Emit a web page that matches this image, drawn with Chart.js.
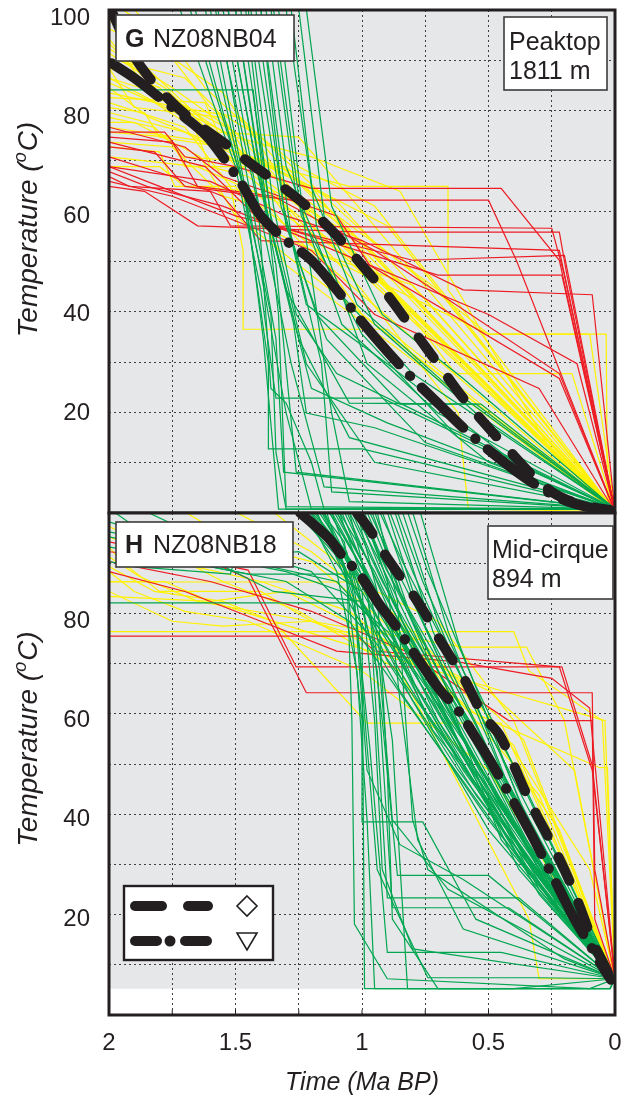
<!DOCTYPE html>
<html>
<head>
<meta charset="utf-8">
<script src="https://cdn.jsdelivr.net/npm/chart.js@4.4.1/dist/chart.umd.min.js"></script>
<style>
  html, body { margin: 0; padding: 0; background: #fff; }
  body { width: 626px; height: 1108px; position: relative; overflow: hidden; }
  canvas { position: absolute; left: 0; }
  #topPanel { top: 0; }
  #bottomPanel { top: 500px; }
</style>
</head>
<body>
<canvas id="topPanel" width="626" height="520"></canvas>
<canvas id="bottomPanel" width="626" height="608"></canvas>
<script>
// ---- axes ----
const TIME_TICKS = [0, 0.25, 0.5, 0.75, 1, 1.25, 1.5, 1.75, 2];      // Ma BP
const TIME_LABELS = [0, 0.5, 1, 1.5, 2];
const TEMP_TICKS_TOP = [20, 40, 60, 80, 100];                       // deg C
const TEMP_TICKS_BOTTOM = [20, 40, 60, 80];
const TEMP_RANGE_TOP = [-0.3, 101.8];
const TEMP_RANGE_BOTTOM = [0.7, 101.8];
const ENVELOPE_FLOOR_TOP = -0.3;      // lower limit of the explored path field
const ENVELOPE_FLOOR_BOTTOM = 6;

// ---- NZ08NB04 (Peaktop, 1811 m): time-temperature paths as [Ma, degC] ----
const TOP_MEAN_DIAMOND = [[1.985,101],[1.92,94],[1.84,88],[1.75,83],[1.66,79],[1.55,75],[1.45,71],[1.33,66.5],[1.22,62],[1.10,56],[1.00,50],[0.90,44],[0.80,37],[0.70,30],[0.60,23],[0.50,17],[0.42,12.5],[0.33,7.5],[0.25,4],[0.17,2],[0.08,0.8],[0.02,0.3]];
const TOP_MEAN_TRIANGLE = [[1.99,91],[1.90,88],[1.80,84],[1.70,80],[1.62,76.5],[1.55,72],[1.47,66],[1.40,60],[1.30,55],[1.20,51],[1.10,45],[1.00,38.5],[0.90,32.5],[0.80,27],[0.70,22],[0.60,17],[0.50,12.5],[0.40,8.5],[0.30,5],[0.20,2.3],[0.10,0.8],[0.04,0.3]];

const TOP_GREEN = [
  [[2.0,85.6],[1.43,85.6],[1.33,40],[1.30,1],[0,0.5]],
  [[1.72,102],[1.50,70],[1.40,45],[1.34,23],[0.92,23],[0,0.5]],
  [[1.66,102],[1.47,66],[1.37,30],[1.37,12.7],[1.0,12.7],[0,0.5]],
  [[1.62,102],[1.46,64],[1.39,35],[1.33,0.5],[0,0.5]],
  [[1.60,102],[1.44,60],[1.30,20],[1.20,0.5],[0,0.5]],
  [[1.57,102],[1.42,58],[1.34,35],[1.31,8],[0,0.5]],
  [[1.55,102],[1.40,60],[1.28,30],[1.15,5],[0,0.5]],
  [[1.53,102],[1.41,68],[1.30,45],[1.05,22],[0.55,21.8],[0,0.5]],
  [[1.50,102],[1.38,62],[1.25,35],[1.05,15],[0,0.5]],
  [[1.48,102],[1.36,60],[1.22,30],[0.95,10],[0,0.5]],
  [[1.46,102],[1.35,55],[1.20,25],[0.90,18],[0,0.5]],
  [[1.44,102],[1.32,62],[1.18,40],[0.85,22],[0,0.5]],
  [[1.42,102],[1.30,58],[1.14,35],[0.75,14],[0,0.5]],
  [[1.40,102],[1.28,56],[1.16,30],[1.12,4],[0,0.5]],
  [[1.38,102],[1.30,70],[1.10,45],[0.80,28],[0,0.5]],
  [[1.36,102],[1.26,64],[1.08,38],[0.70,20],[0,0.5]],
  [[1.35,102],[1.24,60],[1.00,36],[0.62,15],[0,0.5]],
  [[1.33,102],[1.22,55],[1.12,20],[1.05,2],[0,0.5]],
  [[1.30,102],[1.20,66],[1.02,42],[0.65,25],[0,0.5]],
  [[1.28,102],[1.18,58],[0.98,30],[0.50,10],[0,0.5]],
  [[1.25,102],[1.15,60],[0.95,38],[0.55,20],[0,0.5]],
  [[1.22,102],[1.12,62],[0.92,40],[0.60,27],[0,0.5]],
  [[1.58,102],[1.41,62],[1.36,25],[1.30,22],[1.20,10],[1.15,0.5],[0,0.5]],
  [[1.68,102],[1.48,68],[1.36,40],[1.34,12],[1.30,0.5],[0,0.5]],
  [[1.45,102],[1.35,62],[1.26,40],[1.10,28],[0.85,21.8],[0.53,21.8],[0,0.5]],
  [[1.50,102],[1.39,64],[1.27,38],[1.22,20],[0.95,17],[0,0.5]],
  [[1.40,102],[1.31,62],[1.22,42],[0.90,30],[0.40,10],[0,0.5]],
  [[1.53,102],[1.43,74],[1.34,50],[1.26,8],[0,0.5]]
];

const TOP_YELLOW = [
  [[2,100],[1.85,90],[1.60,78],[1.30,66],[0,0]],
  [[2,95],[1.80,85],[1.50,77],[1.20,60],[0,0]],
  [[2,90],[1.90,82],[1.55,80],[1.45,72],[1.10,63],[0,0]],
  [[2,88],[1.75,84],[1.52,76],[1.38,66],[1.0,55],[0,0]],
  [[2,84],[1.62,83],[1.57,77],[1.25,76],[1.05,64],[0,0]],
  [[2,80],[1.82,78],[1.70,72],[1.45,71],[1.30,60],[0.95,48],[0,0]],
  [[2,77],[1.76,76],[1.70,70],[1.30,70],[1.15,62],[0.70,45],[0,0]],
  [[2,74],[1.80,73],[1.74,66],[1.50,66],[1.40,58],[0.50,36],[0.035,36],[0.03,3],[0,0]],
  [[2,92],[1.70,88],[1.58,82],[1.48,73],[1.20,66],[0.63,28],[0.17,28],[0,0]],
  [[2,86],[1.84,80],[1.60,75],[1.28,68],[0.90,58],[0,0]],
  [[2,98],[1.75,92],[1.55,85],[1.40,74],[1.20,58],[0,0]],
  [[1.95,102],[1.75,95],[1.62,86],[1.45,78],[1.35,72],[0,0]],
  [[2,82],[1.86,81],[1.80,76],[1.55,74],[1.35,70],[1.05,66],[0.66,66],[0.66,45],[0,0]],
  [[2,70],[1.80,70],[1.70,66],[1.42,65],[1.25,55],[0,0]],
  [[2,93],[1.78,86],[1.62,78],[1.50,70],[1.30,50],[0,0]],
  [[2,88],[1.70,80],[1.55,73],[1.35,65],[1.00,40],[0,0]],
  [[2,96],[1.88,88],[1.66,80],[1.50,76],[1.20,72],[0.85,65],[0.25,12],[0,0]],
  [[2,79],[1.90,79],[1.64,72],[1.50,60],[1.30,52],[0,0]],
  [[2,85],[1.72,82],[1.48,80],[1.36,74],[0.98,56],[0.50,36],[0.10,36],[0,0]],
  [[1.90,102],[1.72,90],[1.60,82],[1.40,76],[1.25,70],[0.95,62],[0,0]],
  [[2,75],[1.75,74],[1.55,64],[1.40,62],[1.15,52],[0.80,46],[0,0]],
  [[2,90],[1.80,86],[1.68,80],[1.60,70],[1.45,68],[1.10,54],[0,0]],
  [[2,83],[1.70,78],[1.52,66],[1.47,53],[1.47,37],[0.90,37],[0,0]],
  [[2,72],[1.65,70],[1.30,62],[1.00,45],[0.62,20],[0.58,0.5],[0,0]],
  [[2,94],[1.75,86],[1.45,75],[1.25,64],[0,0]],
  [[2,81],[1.70,77],[1.45,70],[1.15,58],[0,0]],
  [[2,87],[1.82,83],[1.55,74],[1.32,70],[1.10,60],[0,0]],
  [[2,78],[1.60,75],[1.35,68],[1.05,57],[0,0]]
];

const TOP_RED = [
  [[2,77],[1.78,77],[1.70,72],[1.50,70],[1.20,65.6],[0.45,65.6],[0.22,51],[0,0]],
  [[2,74],[1.82,73],[1.70,66],[1.28,63.2],[0.50,63.2],[0.39,51],[0,0]],
  [[2,68],[1.92,66],[1.60,65],[1.52,58],[0.25,57.5],[0.20,48],[0,0]],
  [[2,66],[1.86,65],[1.65,58],[1.00,56.7],[0.22,56.7],[0.19,48],[0,0]],
  [[2,72],[1.75,68],[1.55,64],[1.40,55],[0.22,53],[0,0]],
  [[2,70],[1.80,66],[1.50,60],[0.80,51],[0.20,52],[0,0]],
  [[2,78],[1.70,74],[1.55,68],[1.10,60],[0.97,50],[0.22,27],[0,0]],
  [[2,75],[1.62,70],[1.40,59],[0.70,48],[0.21,48],[0,0]],
  [[2,70],[1.60,67],[1.30,60],[1.00,55],[0.60,45],[0.09,44],[0,0]],
  [[2,67],[1.75,64],[1.40,57],[1.20,53],[0.95,40],[0.30,25],[0,0]],
  [[2,76],[1.75,75],[1.65,66],[1.35,64],[0.95,53],[0.22,28],[0,0]],
  [[2,69],[1.85,66],[1.55,62],[1.25,56],[0.50,40],[0.15,30],[0,0]]
];

// ---- NZ08NB18 (Mid-cirque, 894 m) ----
const BOTTOM_MEAN_DIAMOND = [[1.02,101.8],[0.97,98.5],[0.929,95],[0.87,90.5],[0.811,86.3],[0.75,81.5],[0.693,76.3],[0.64,72],[0.594,68.2],[0.52,61],[0.457,57.1],[0.40,51],[0.358,46.1],[0.31,41],[0.268,37],[0.20,30],[0.142,22.9],[0.083,14.9],[0.04,10.5],[0.016,7.8]];
const BOTTOM_MEAN_TRIANGLE = [[1.244,101.8],[1.18,99],[1.126,96.4],[1.075,93],[1.008,89.3],[0.93,83.3],[0.87,79.3],[0.78,72.5],[0.693,66.2],[0.622,62.2],[0.55,56.5],[0.496,52.1],[0.417,45.1],[0.33,37],[0.26,30],[0.22,26],[0.16,20],[0.10,14.9],[0.05,10.5],[0.016,7.8]];

const BOTTOM_GREEN = [
  [[1.24,102],[1.05,88],[0.85,70],[0.55,45],[0,8]],
  [[1.20,102],[1.02,86],[0.80,64],[0.50,38],[0,8]],
  [[1.18,102],[1.00,84],[0.90,72],[0.62,50],[0,8]],
  [[1.15,102],[0.98,85],[0.75,62],[0.45,40],[0,8]],
  [[1.12,102],[0.95,86],[0.78,66],[0.40,34],[0,8]],
  [[1.10,102],[0.96,88],[0.70,60],[0.35,30],[0,8]],
  [[1.08,102],[0.94,84],[0.72,58],[0.50,44],[0,8]],
  [[1.06,102],[0.90,83],[0.68,60],[0.30,25],[0,8]],
  [[1.04,102],[0.88,84],[0.66,62],[0.42,40],[0,8]],
  [[1.02,102],[0.86,82],[0.62,56],[0.32,30],[0,8]],
  [[1.00,102],[0.84,80],[0.60,58],[0.28,28],[0,8]],
  [[0.98,102],[0.82,82],[0.58,54],[0.36,36],[0,8]],
  [[0.95,102],[0.80,80],[0.62,62],[0.40,42],[0,8]],
  [[0.92,102],[0.78,82],[0.55,56],[0.25,26],[0,8]],
  [[0.90,102],[0.76,80],[0.52,52],[0.30,34],[0,8]],
  [[0.87,102],[0.72,78],[0.50,54],[0,8]],
  [[0.84,102],[0.70,80],[0.45,50],[0,8]],
  [[0.80,102],[0.66,78],[0.40,44],[0,8]],
  [[0.77,102],[0.62,76],[0.38,44],[0,8]],
  [[1.22,102],[1.10,90],[1.02,70],[0.98,40],[0.95,6],[0.02,6],[0,8]],
  [[1.18,102],[1.06,88],[1.00,60],[1.00,39.6],[0.76,39.6],[0.55,20],[0,8]],
  [[1.14,102],[1.03,84],[0.97,55],[0.90,13.3],[0.45,13.3],[0,8]],
  [[1.26,102],[1.08,92],[1.02,80],[0.94,30],[0.74,8.2],[0.30,8.2],[0,8]],
  [[1.09,102],[0.98,86],[0.92,60],[0.86,28.8],[0.50,28.8],[0,8]],
  [[1.16,102],[1.04,90],[0.96,75],[0.90,24.3],[0.38,24.3],[0,8]],
  [[1.12,102],[1.02,88],[0.94,70],[0.88,22.3],[0.42,22.3],[0,8]],
  [[1.05,102],[0.96,84],[0.88,56],[0.82,6],[0.02,6],[0,8]],
  [[1.20,102],[1.06,94],[1.00,78],[0.99,6],[0.40,6],[0,8]],
  [[2,83.7],[1.05,83.7],[0.85,66],[0.50,40],[0,8]],
  [[2,95],[1.80,93],[1.45,89.5],[1.02,89.5],[0.80,70],[0.40,36],[0,8]],
  [[2,98],[1.70,95],[1.35,86],[1.00,84],[0.70,60],[0,8]],
  [[2,92],[1.90,91],[1.52,89.5],[1.50,93],[1.25,94],[1.00,86],[0.60,50],[0,8]],
  [[1.98,102],[1.70,92],[1.30,88],[1.05,80],[0.80,62],[0.35,30],[0,8]],
  [[1.85,102],[1.60,96],[1.20,90],[0.95,76],[0.70,58],[0,8]],
  [[1.00,102],[0.88,88],[0.70,70],[0.45,50],[0.20,25],[0,8]],
  [[0.96,102],[0.85,86],[0.66,66],[0.40,44],[0,8]],
  [[1.07,102],[0.92,86],[0.74,70],[0.55,52],[0.30,30],[0,8]],
  [[1.13,102],[0.99,90],[0.82,74],[0.60,54],[0,8]],
  [[0.86,102],[0.76,88],[0.60,70],[0.35,46],[0,8]],
  [[0.82,102],[0.74,90],[0.56,68],[0.30,40],[0,8]],
  [[1.03,102],[0.93,92],[0.78,76],[0.64,62],[0.45,36],[0,8]],
  [[1.11,102],[1.00,92],[0.90,80],[0.70,64],[0.38,30],[0,8]],
  [[1.15,102],[1.06,90],[1.04,60],[1.03,19],[0.90,8],[0.10,6],[0,8]],
  [[1.02,102],[0.94,86],[0.90,50],[0.88,20],[0.70,6],[0.02,6],[0,8]],
  [[0.94,102],[0.86,84],[0.80,40],[0.74,30],[0.20,12],[0,8]],
  [[1.17,102],[1.02,90],[0.84,76],[0.62,58],[0.35,32],[0,8]],
  [[1.13,102],[0.97,88],[0.80,72],[0.58,52],[0.30,26],[0,8]],
  [[1.09,102],[0.95,90],[0.76,70],[0.56,50],[0.26,24],[0,8]],
  [[1.05,102],[0.92,88],[0.74,72],[0.52,52],[0.22,22],[0,8]],
  [[1.01,102],[0.90,90],[0.72,74],[0.48,50],[0,8]],
  [[0.97,102],[0.88,92],[0.68,72],[0.44,48],[0,8]],
  [[0.93,102],[0.84,92],[0.66,74],[0.46,54],[0.18,20],[0,8]],
  [[0.89,102],[0.80,90],[0.64,72],[0.42,50],[0,8]],
  [[1.23,102],[1.08,94],[0.92,82],[0.70,66],[0.48,46],[0,8]],
  [[1.19,102],[1.04,92],[0.86,80],[0.66,62],[0.44,42],[0,8]],
  [[1.21,102],[1.10,96],[1.00,86],[0.95,60],[0.92,30],[0.80,14],[0,8]],
  [[1.10,102],[1.00,92],[0.93,70],[0.88,40],[0.66,26],[0,8]],
  [[0.99,102],[0.90,88],[0.85,64],[0.78,36],[0.60,18],[0,8]],
  [[1.16,102],[1.07,96],[1.03,84],[0.98,50],[0.85,35],[0.60,28],[0,8]],
  [[2,100],[1.75,96],[1.45,92],[1.10,88],[0.85,74],[0.55,50],[0,8]],
  [[2,97],[1.60,93],[1.30,90],[1.08,86],[0.90,78],[0.60,56],[0,8]]
];

const BOTTOM_YELLOW = [
  [[2,87.9],[1.02,87.9],[0.70,80],[0.40,60],[0,8]],
  [[2,77.9],[0.40,77.9],[0.34,70],[0.05,60],[0,8]],
  [[2,95],[1.95,92],[1.80,86],[1.40,86],[1.20,80],[0.60,74.8],[0.35,74.8],[0.20,60],[0,8]],
  [[2,93],[1.88,89],[1.65,84],[1.20,80],[0.80,72],[0.40,55],[0,8]],
  [[2,90],[1.90,86],[1.70,82],[1.45,80],[1.00,70],[0.50,50],[0,8]],
  [[2,91],[1.82,86],[1.55,84],[1.35,80],[0.98,59.5],[0.45,59.5],[0,8]],
  [[1.70,102],[1.50,96],[1.20,92],[0.80,75],[0.30,45],[0,8]],
  [[2,97],[1.75,92],[1.40,88],[1.05,82],[0.62,64],[0.58,62],[0.06,50.5],[0.03,50.5],[0,8]],
  [[2,85],[1.60,84],[1.30,86],[0.90,76],[0.50,66],[0.16,50],[0,8]],
  [[1.50,102],[1.20,94],[0.90,82],[0.60,66],[0.22,38],[0,8]],
  [[2,99],[1.85,96],[1.55,88],[1.25,82],[0.85,70],[0.34,20],[0.30,8],[0,8]],
  [[2,88],[1.78,88],[1.60,84],[1.10,76],[0.45,66],[0.04,60],[0,8]],
  [[1.35,102],[1.10,92],[0.80,78],[0.45,58],[0.10,30],[0,8]],
  [[2,86],[1.75,80],[1.55,79],[1.20,80],[0.70,72],[0.36,56],[0,8]]
];

const BOTTOM_RED = [
  [[2,77],[1.02,77],[0.95,74],[0.22,70.8],[0.09,50],[0,8]],
  [[2,96],[1.45,90.3],[1.26,70.8],[0.21,70.8],[0.09,51],[0,8]],
  [[2,94],[1.60,92],[1.45,88.6],[1.22,65.6],[0.09,65.6],[0.08,30],[0,8]],
  [[2,90],[1.70,86],[1.40,80],[1.10,74],[0.62,71.8],[0.25,68.5],[0.10,62.5],[0.04,30],[0,8]],
  [[2,92],[1.60,88],[1.20,82],[0.83,74],[0.42,60],[0.09,60],[0.08,20],[0,8]]
];

// ---- styling ----
const INK = '#231f20';
const GREEN = '#00a650', YELLOW = '#fff200', RED = '#ed1c24', FIELD = '#e6e7e8';
const FONT = "'Liberation Sans', Arial, Helvetica, sans-serif";
const DASHED = [26, 24];
const DASH_DOT = [58, 16, 0.5, 16];

function pathDatasets(paths, color, order) {
  return paths.map(p => ({
    data: p.map(([t, T]) => ({ x: t, y: T })),
    borderColor: color, borderWidth: 1.2, pointRadius: 0, tension: 0,
    fill: false, order
  }));
}
function meanDataset(path, dash) {
  return {
    data: path.map(([t, T]) => ({ x: t, y: T })),
    borderColor: INK, borderWidth: 10, borderDash: dash,
    borderCapStyle: 'round', borderJoinStyle: 'round',
    pointRadius: 0, tension: 0.35, fill: false, order: 0
  };
}

// light field of explored paths, drawn underneath the grid
const fieldPlugin = {
  id: 'field',
  beforeDraw(chart, args, opts) {
    const { ctx, chartArea: a, scales: { y } } = chart;
    const yf = Math.min(a.bottom, y.getPixelForValue(opts.floor));
    ctx.save();
    ctx.fillStyle = FIELD;
    ctx.fillRect(a.left, a.top, a.right - a.left, yf - a.top);
    ctx.restore();
  }
};

function labelBox(ctx, x, y, w, h) {
  ctx.fillStyle = '#fff';
  ctx.fillRect(x, y, w, h);
  ctx.lineWidth = 1.6;
  ctx.strokeStyle = '#3b3b3b';
  ctx.strokeRect(x, y, w, h);
}

const decorPlugin = {
  id: 'decor',
  afterDraw(chart, args, opts) {
    const { ctx, chartArea: a, scales: { x } } = chart;
    ctx.save();
    // panel frame
    ctx.lineWidth = 3;
    ctx.strokeStyle = INK;
    ctx.strokeRect(a.left, a.top, a.right - a.left, a.bottom - a.top);
    // inward time ticks on the lower edge
    if (opts.innerTicks) {
      ctx.lineWidth = 1;
      TIME_TICKS.forEach(v => {
        const px = x.getPixelForValue(v);
        ctx.beginPath(); ctx.moveTo(px, a.bottom); ctx.lineTo(px, a.bottom - 5); ctx.stroke();
      });
    }
    // sample name box
    const s = opts.sample;
    labelBox(ctx, s.box[0], s.box[1], s.box[2], s.box[3]);
    ctx.fillStyle = INK;
    ctx.textBaseline = 'alphabetic';
    ctx.font = `bold 25px ${FONT}`;
    ctx.fillText(s.letter, s.tx, s.ty);
    ctx.font = `25px ${FONT}`;
    ctx.fillText(s.name, s.tx + 28, s.ty);
    // site box
    const e = opts.site;
    labelBox(ctx, e.box[0], e.box[1], e.box[2], e.box[3]);
    ctx.fillStyle = INK;
    ctx.font = `25px ${FONT}`;
    ctx.fillText(e.lines[0], e.tx, e.ty[0]);
    ctx.fillText(e.lines[1], e.tx, e.ty[1]);
    // y-axis title with superscript degree sign
    const cy = (a.top + a.bottom) / 2 + opts.titleShift;
    ctx.translate(29, cy);
    ctx.rotate(-Math.PI / 2);
    const big = `italic 28px ${FONT}`, small = `italic 18px ${FONT}`;
    ctx.font = big; const w1 = ctx.measureText('Temperature (').width;
    ctx.font = small; const w2 = ctx.measureText('o').width + 1;
    ctx.font = big; const w3 = ctx.measureText('C)').width;
    let cx = -(w1 + w2 + w3) / 2;
    ctx.textBaseline = 'middle';
    ctx.font = big; ctx.fillText('Temperature (', cx, 0); cx += w1;
    ctx.font = small; ctx.fillText('o', cx, -8); cx += w2;
    ctx.font = big; ctx.fillText('C)', cx, 0);
    ctx.restore();
    // legend of the two mean paths
    if (opts.legend) {
      const L = opts.legend;
      ctx.save();
      ctx.fillStyle = '#fff';
      ctx.fillRect(L.x, L.y, L.w, L.h);
      ctx.lineWidth = 2.4; ctx.strokeStyle = INK;
      ctx.strokeRect(L.x, L.y, L.w, L.h);
      ctx.lineCap = 'round'; ctx.lineWidth = 10;
      const seg = (x1, x2, yy) => { ctx.beginPath(); ctx.moveTo(x1, yy); ctx.lineTo(x2, yy); ctx.stroke(); };
      const r1 = L.y + 20, r2 = L.y + 55;
      seg(L.x + 11, L.x + 38, r1); seg(L.x + 64, L.x + 84, r1);
      seg(L.x + 11, L.x + 33, r2);
      ctx.beginPath(); ctx.arc(L.x + 46, r2, 5.5, 0, Math.PI * 2); ctx.fillStyle = INK; ctx.fill();
      seg(L.x + 61, L.x + 83, r2);
      // diamond and down-triangle markers
      ctx.lineWidth = 1.6; ctx.lineCap = 'butt'; ctx.lineJoin = 'miter';
      const mx = L.x + 123;
      ctx.beginPath();
      ctx.moveTo(mx, r1 - 10); ctx.lineTo(mx + 10, r1); ctx.lineTo(mx, r1 + 10); ctx.lineTo(mx - 10, r1); ctx.closePath();
      ctx.stroke();
      ctx.beginPath();
      ctx.moveTo(mx - 10, r2 - 8); ctx.lineTo(mx + 10, r2 - 8); ctx.lineTo(mx, r2 + 9); ctx.closePath();
      ctx.stroke();
      ctx.restore();
    }
  }
};

function noPad(s) { s.paddingTop = 0; s.paddingBottom = 0; s.paddingLeft = 0; s.paddingRight = 0; }

function panelOptions(cfg) {
  return {
    responsive: false,
    animation: false,
    events: [],
    layout: { padding: cfg.padding },
    plugins: {
      legend: { display: false },
      tooltip: { enabled: false },
      field: { floor: cfg.floor },
      decor: cfg.decor
    },
    scales: {
      x: {
        type: 'linear', min: 0, max: 2, reverse: true,
        afterBuildTicks: s => { s.ticks = TIME_TICKS.map(v => ({ value: v })); },
        afterFit: s => { s.height = cfg.xHeight; noPad(s); },
        grid: { color: 'rgba(35,31,32,0.85)', lineWidth: 1, drawTicks: false },
        border: { display: false, dash: [2, 3] },
        ticks: {
          display: cfg.xLabels, padding: 14, color: INK, maxRotation: 0,
          font: { family: FONT, size: 24 },
          callback: v => TIME_LABELS.includes(v) ? String(v) : ''
        },
        title: {
          display: cfg.xLabels, text: 'Time (Ma BP)', color: INK,
          font: { family: FONT, size: 25, style: 'italic' },
          padding: { top: 0, bottom: 10 }
        }
      },
      y: {
        type: 'linear', min: cfg.range[0], max: cfg.range[1], position: 'left',
        afterBuildTicks: s => { s.ticks = cfg.yTicks.map(v => ({ value: v })); },
        afterFit: s => { s.width = 109; noPad(s); },
        grid: { display: false },
        border: { display: false },
        ticks: { padding: 11, color: INK, font: { family: FONT, size: 24 } }
      },
      g: {
        type: 'linear', min: 0, max: 10, position: 'right',
        afterBuildTicks: s => { s.ticks = [1,2,3,4,5,6,7,8,9].map(v => ({ value: v })); },
        afterFit: s => { s.width = 0; noPad(s); },
        grid: { color: 'rgba(35,31,32,0.85)', lineWidth: 1, drawTicks: false },
        border: { display: false, dash: [2, 3] },
        ticks: { display: false }
      }
    }
  };
}

new Chart(document.getElementById('topPanel'), {
  type: 'line',
  data: {
    datasets: [
      meanDataset(TOP_MEAN_DIAMOND, DASHED),
      meanDataset(TOP_MEAN_TRIANGLE, DASH_DOT),
      ...pathDatasets(TOP_GREEN, GREEN, 1),
      ...pathDatasets(TOP_RED, RED, 2),
      ...pathDatasets(TOP_YELLOW, YELLOW, 3)
    ]
  },
  options: panelOptions({
    padding: { top: 10, right: 11, bottom: 7, left: 0 },
    xHeight: 0, xLabels: false,
    range: TEMP_RANGE_TOP, yTicks: TEMP_TICKS_TOP, floor: ENVELOPE_FLOOR_TOP,
    decor: {
      innerTicks: false, titleShift: -32,
      sample: { letter: 'G', name: 'NZ08NB04', box: [116, 15, 178, 46], tx: 125, ty: 47 },
      site: { lines: ['Peaktop', '1811 m'], box: [504, 17, 103, 73], tx: 509, ty: [50, 79] }
    }
  }),
  plugins: [fieldPlugin, decorPlugin]
});

new Chart(document.getElementById('bottomPanel'), {
  type: 'line',
  data: {
    datasets: [
      meanDataset(BOTTOM_MEAN_DIAMOND, DASHED),
      meanDataset(BOTTOM_MEAN_TRIANGLE, DASH_DOT),
      ...pathDatasets(BOTTOM_GREEN, GREEN, 1),
      ...pathDatasets(BOTTOM_RED, RED, 2),
      ...pathDatasets(BOTTOM_YELLOW, YELLOW, 3)
    ]
  },
  options: panelOptions({
    padding: { top: 13, right: 11, bottom: 0, left: 0 },
    xHeight: 93, xLabels: true,
    range: TEMP_RANGE_BOTTOM, yTicks: TEMP_TICKS_BOTTOM, floor: ENVELOPE_FLOOR_BOTTOM,
    decor: {
      innerTicks: true, titleShift: -25,
      sample: { letter: 'H', name: 'NZ08NB18', box: [116, 22, 177, 45], tx: 125, ty: 53 },
      site: { lines: ['Mid-cirque', '894 m'], box: [488, 26, 125, 73], tx: 492, ty: [58, 87] },
      legend: { x: 124, y: 386, w: 149, h: 74 }
    }
  }),
  plugins: [fieldPlugin, decorPlugin]
});
</script>
</body>
</html>
